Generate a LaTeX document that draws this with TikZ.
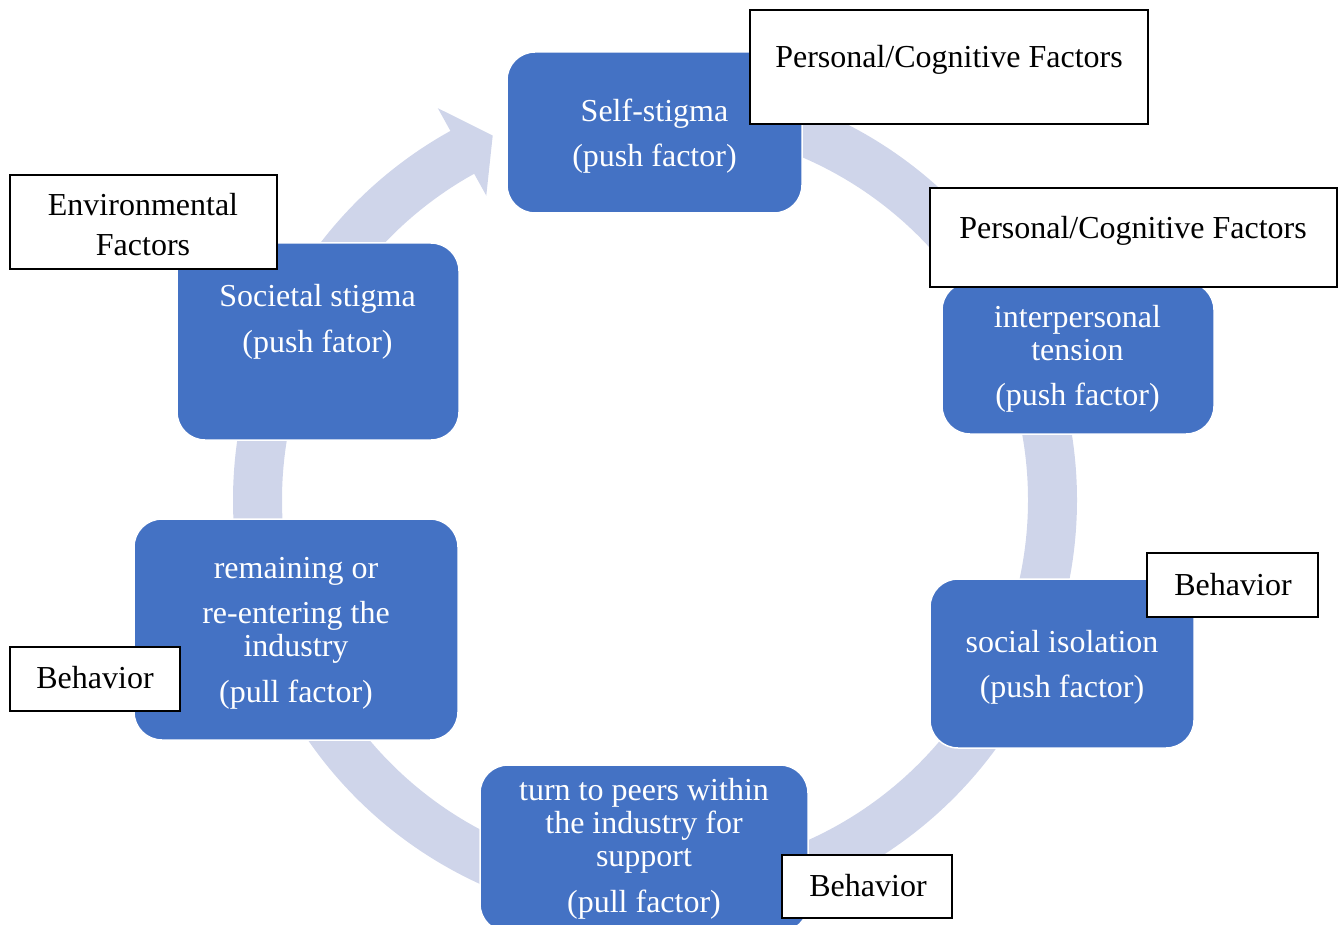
\documentclass[tikz,border=0pt]{standalone}
\usepackage{fontspec}
\setmainfont{Liberation Serif}
\usetikzlibrary{calc}
\definecolor{cycleblue}{HTML}{4472C4}
\definecolor{ringtint}{HTML}{CFD5EA}
% one band of the cycle ring, between two angles (clockwise)
\newcommand\ringband[2]{%
  \fill[ringtint] ($(c)+(#1:422)$) arc[start angle=#1, end angle=#2, radius=422]
    -- ($(c)+(#2:373)$) arc[start angle=#2, end angle=#1, radius=373] -- cycle;}

\begin{document}
\begin{tikzpicture}[x=1pt,y=1pt,
  stage/.style={fill=cycleblue, draw=white, line width=1.5pt, rounded corners=28pt, inner sep=0pt},
  tag/.style={fill=white, draw=black, line width=2.8pt, inner sep=0pt},
  wtxt/.style={text=white, anchor=base, inner sep=0pt, font=\fontsize{32}{36}\selectfont},
  btxt/.style={text=black, anchor=base, inner sep=0pt, font=\fontsize{32}{36}\selectfont},
]
\useasboundingbox (0,0) rectangle (1343,-925);
\coordinate (c) at (655,-500);

% ring bands between the stages
\ringband{85}{25}
\ringband{20}{-20}
\ringband{-35}{-75}
\ringband{-105}{-150}
\ringband{-165}{-200}
% band with the visible arrow head, into the top stage
\fill[ringtint] ($(c)+(155:422)$) arc[start angle=155, end angle=119, radius=422]
  -- ($(c)+(119:448)$) -- ($(c)+(114:399)$) -- ($(c)+(119:348)$)
  -- ($(c)+(119:373)$) arc[start angle=119, end angle=155, radius=373] -- cycle;

% stages
\node[stage, minimum width=295pt, minimum height=161pt] (self)   at (654.5,-132.5) {};
\node[stage, minimum width=272pt, minimum height=152pt] (inter)  at (1078,-358) {};
\node[stage, minimum width=264pt, minimum height=169pt] (social) at (1062,-663.5) {};
\node[stage, minimum width=328pt, minimum height=167pt] (peers)  at (644,-848.5) {};
\node[stage, minimum width=324pt, minimum height=221pt] (remain) at (296,-629.5) {};
\node[stage, minimum width=282pt, minimum height=197pt] (soc)    at (318,-341.5) {};

% factor tags
\node[tag, minimum width=398pt, minimum height=114pt] (tagA) at (949,-67) {};
\node[tag, minimum width=407pt, minimum height=99pt]  (tagB) at (1133.5,-237.5) {};
\node[tag, minimum width=267pt, minimum height=94pt]  (tagC) at (143.5,-222) {};
\node[tag, minimum width=170pt, minimum height=64pt]  (tagD) at (95,-679) {};
\node[tag, minimum width=171pt, minimum height=64pt]  (tagE) at (1232.5,-585) {};
\node[tag, minimum width=170pt, minimum height=63pt]  (tagF) at (867,-886.5) {};

% stage texts
\node[wtxt] (selfa) at (654.5,-122) {Self-stigma};
\node[wtxt] (selfb) at (654.5,-167) {(push factor)};
\node[wtxt] (intera) at (1077.5,-327) {interpersonal};
\node[wtxt] (interb) at (1077.5,-360) {tension};
\node[wtxt] (interc) at (1077.5,-405) {(push factor)};
\node[wtxt] (sociala) at (1062,-652) {social isolation};
\node[wtxt] (socialb) at (1062,-697) {(push factor)};
\node[wtxt] (peersa) at (644,-800) {turn to peers within};
\node[wtxt] (peersb) at (644,-833) {the industry for};
\node[wtxt] (peersc) at (644,-866) {support};
\node[wtxt] (peersd) at (644,-912) {(pull factor)};
\node[wtxt] (remaina) at (296,-578) {remaining or};
\node[wtxt] (remainb) at (296,-623) {re-entering the};
\node[wtxt] (remainc) at (296,-656) {industry};
\node[wtxt] (remaind) at (296,-702) {(pull factor)};
\node[wtxt] (soca) at (317.5,-306) {Societal stigma};
\node[wtxt] (socb) at (317.5,-352) {(push fator)};

% tag texts
\node[btxt] (tagAt) at (949,-68) {Personal/Cognitive Factors};
\node[btxt] (tagBt) at (1133,-239) {Personal/Cognitive Factors};
\node[btxt] (tagCa) at (143,-216) {Environmental};
\node[btxt] (tagCb) at (143,-255) {Factors};
\node[btxt] (tagDt) at (95,-688) {Behavior};
\node[btxt] (tagEt) at (1233,-595) {Behavior};
\node[btxt] (tagFt) at (868,-896) {Behavior};
\end{tikzpicture}
\end{document}
